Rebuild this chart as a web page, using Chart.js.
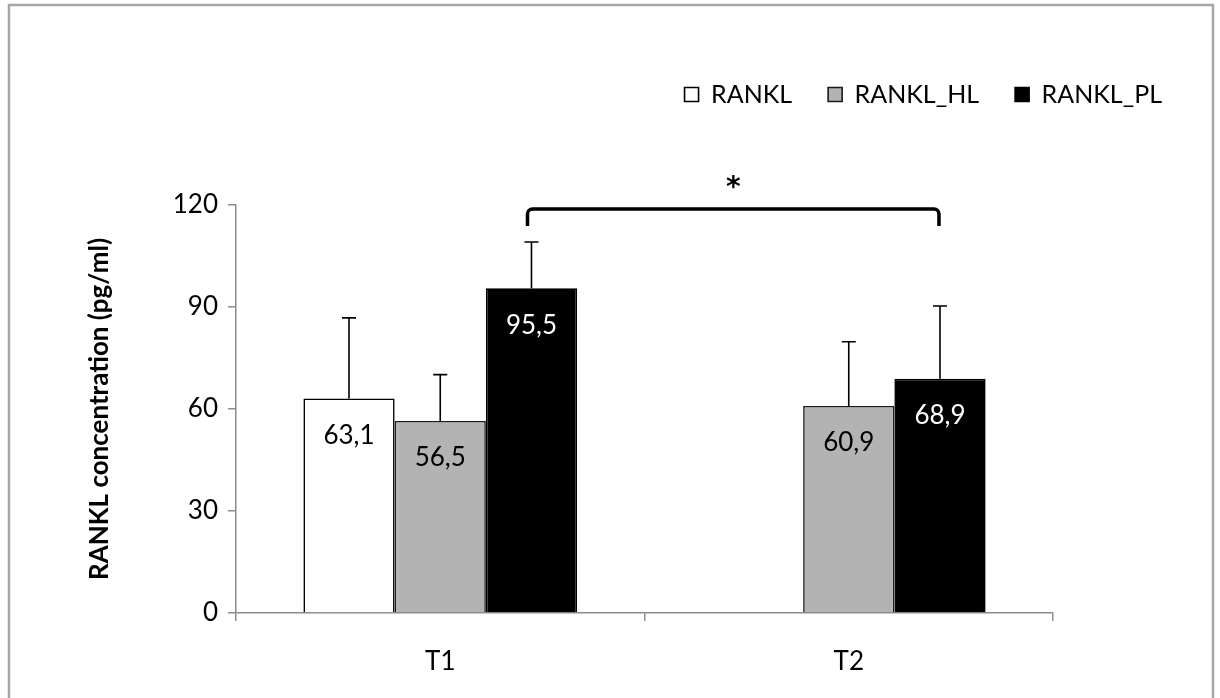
<!DOCTYPE html>
<html>
<head>
<meta charset="utf-8">
<script src="https://cdn.jsdelivr.net/npm/chart.js@4/dist/chart.umd.min.js"></script>
<style>
  html, body { margin: 0; padding: 0; background: #fff; }
  .wrap-chart { width: 1220px; height: 698px; }
</style>
</head>
<body>
<div class="wrap-chart"><canvas width="1220" height="698"></canvas></div>
<script>
// data
const categories = ['T1', 'T2'];
const rankl = [63.1, null];
const ranklHL = [56.5, 60.9];
const ranklPL = [95.5, 68.9];
const ranklSD = [23.7, null];
const ranklHLSD = [13.6, 18.9];
const ranklPLSD = [13.6, 21.4];
const yTicks = [0, 30, 60, 90, 120];
// significance bracket between T1 and T2 RANKL_PL (in axis units)
const bracketTop = 118.8;
const bracketFoot = 113.8;
const bracketLabel = '*';

const FONT = 'Lato';

// frame round the figure
const framePlugin = {
    id: 'frame',
    beforeDraw(chart) {
        const c = chart.ctx;
        c.save();
        c.fillStyle = '#fff';
        c.fillRect(0, 0, chart.width, chart.height);
        c.strokeStyle = '#a6a6a6';
        c.lineWidth = 2.5;
        c.beginPath();
        c.moveTo(9, chart.height);
        c.lineTo(9, 5);
        c.lineTo(1213, 5);
        c.lineTo(1213, chart.height);
        c.stroke();
        c.restore();
    }
};

// error bars, value labels and the bracket
const extrasPlugin = {
    id: 'extras',
    afterDatasetsDraw(chart) {
        const c = chart.ctx;
        const y = chart.scales.y;
        c.save();
        chart.data.datasets.forEach((ds, di) => {
            const meta = chart.getDatasetMeta(di);
            meta.data.forEach((bar, i) => {
                const v = ds.data[i];
                if (v == null) return;
                const sd = ds.sd[i];
                const top = y.getPixelForValue(v + sd);
                c.strokeStyle = '#000';
                c.lineWidth = 1.6;
                c.beginPath();
                c.moveTo(bar.x, bar.y);
                c.lineTo(bar.x, top);
                c.moveTo(bar.x - 7, top);
                c.lineTo(bar.x + 7, top);
                c.stroke();
                c.fillStyle = ds.labelColor;
                c.font = '26px ' + FONT;
                c.textAlign = 'center';
                c.textBaseline = 'middle';
                c.fillText(v.toFixed(1).replace('.', ','), bar.x, bar.y + 37);
            });
        });
        const pl = chart.getDatasetMeta(2).data;
        const x0 = pl[0].x - 4, x1 = pl[1].x - 1;
        const yt = y.getPixelForValue(bracketTop);
        const yf = y.getPixelForValue(bracketFoot);
        c.strokeStyle = '#000';
        c.lineWidth = 3.5;
        c.lineJoin = 'round';
        c.beginPath();
        c.moveTo(x0, yf);
        c.arcTo(x0, yt, x0 + 6, yt, 5);
        c.arcTo(x1, yt, x1, yf, 5);
        c.lineTo(x1, yf);
        c.stroke();
        c.fillStyle = '#000';
        c.font = 'bold 28px "DejaVu Sans"';
        c.textAlign = 'center';
        c.textBaseline = 'middle';
        c.fillText(bracketLabel, (x0 + x1) / 2, yt - 20);
        c.restore();
    }
};

const ctx = document.querySelector('.wrap-chart canvas').getContext('2d');
const chart = new Chart(ctx, {
    type: 'bar',
    data: {
        labels: categories,
        datasets: [{
            label: 'RANKL',
            data: rankl,
            sd: ranklSD,
            backgroundColor: '#ffffff',
            borderColor: '#000000',
            borderWidth: 1.6,
            labelColor: '#000'
        }, {
            label: 'RANKL_HL',
            data: ranklHL,
            sd: ranklHLSD,
            backgroundColor: '#b3b3b3',
            borderColor: '#1a1a1a',
            borderWidth: 1.6,
            labelColor: '#000'
        }, {
            label: 'RANKL_PL',
            data: ranklPL,
            sd: ranklPLSD,
            backgroundColor: '#000000',
            borderColor: '#000000',
            borderWidth: 1.6,
            labelColor: '#fff'
        }]
    },
    options: {
        responsive: false,
        animation: false,
        devicePixelRatio: 1,
        layout: { padding: { left: 10, right: 22, top: 46, bottom: 26 } },
        datasets: {
            bar: { categoryPercentage: 0.67, barPercentage: 1.0 }
        },
        plugins: {
            tooltip: { enabled: false },
            legend: {
                position: 'top',
                align: 'end',
                labels: {
                    boxWidth: 14,
                    boxHeight: 14,
                    padding: 36,
                    color: '#000',
                    font: { family: FONT, size: 25 }
                }
            },
            title: {
                display: true,
                text: '',
                weight: 500,
                font: { size: 10 },
                padding: { top: 0, bottom: 76 }
            }
        },
        scales: {
            x: {
                afterFit(scale) { scale.height = 59; },
                grid: {
                    display: true,
                    drawOnChartArea: false,
                    drawTicks: true,
                    tickLength: 8,
                    color: '#8c8c8c',
                    lineWidth: 1.5
                },
                border: { color: '#8c8c8c', width: 1.5 },
                ticks: {
                    color: '#000',
                    padding: 25,
                    font: { family: FONT, size: 26 }
                }
            },
            y: {
                min: 0,
                max: 120,
                afterFit(scale) { scale.width = 226; },
                afterBuildTicks(scale) { scale.ticks = yTicks.map(v => ({ value: v })); },
                grid: {
                    display: true,
                    drawOnChartArea: false,
                    drawTicks: true,
                    tickLength: 8,
                    color: '#8c8c8c',
                    lineWidth: 1.5
                },
                border: { color: '#8c8c8c', width: 1.5 },
                ticks: {
                    color: '#000',
                    padding: 10,
                    font: { family: FONT, size: 26 }
                },
                title: {
                    display: true,
                    text: 'RANKL concentration (pg/ml)',
                    color: '#000',
                    padding: { top: 74, bottom: 0 },
                    font: { family: FONT, size: 26, weight: 'bold' }
                }
            },
            y2: {
                position: 'right',
                display: true,
                afterFit(scale) { scale.width = 145; },
                grid: { display: false },
                border: { display: false },
                ticks: { display: false }
            }
        }
    },
    plugins: [framePlugin, extrasPlugin]
});
</script>
</body>
</html>
